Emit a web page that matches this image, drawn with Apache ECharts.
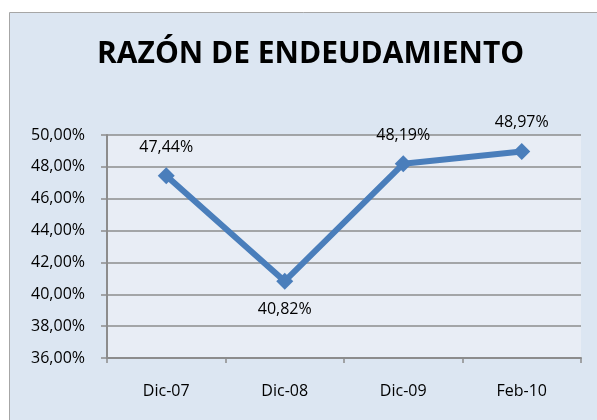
<!DOCTYPE html>
<html>
<head>
<meta charset="utf-8">
<script src="https://cdn.jsdelivr.net/npm/echarts@6/dist/echarts.min.js"></script>
<style>
  html, body { margin: 0; padding: 0; background: #fff; }
  #chart { width: 597px; height: 420px; }
</style>
</head>
<body>
<div id="chart"></div>
<script>
var periodos = ['Dic-07', 'Dic-08', 'Dic-09', 'Feb-10'];
var razon = [47.44, 40.82, 48.19, 48.97];
var posiciones = ['top', 'bottom', 'top', 'top'];

function pct(v) {
    return v.toFixed(2).replace('.', ',') + '%';
}

var chart = echarts.init(document.getElementById('chart'));

var option = {
    backgroundColor: '#ffffff',
    animation: false,
    graphic: [{
        type: 'rect',
        z: -10,
        shape: { x: 9.5, y: 12.5, width: 600, height: 420 },
        style: { fill: '#dce6f2', stroke: '#a6a6a6', lineWidth: 1 }
    }],
    title: {
        text: 'RAZÓN DE ENDEUDAMIENTO',
        left: 92,
        top: 34,
        textStyle: {
            fontFamily: 'Open Sans',
            fontWeight: 'bold',
            fontSize: 30,
            color: '#000'
        }
    },
    grid: {
        left: 107,
        right: 16,
        top: 135,
        bottom: 62,
        show: true,
        backgroundColor: '#e8edf5',
        borderWidth: 0
    },
    xAxis: {
        type: 'category',
        data: periodos,
        boundaryGap: true,
        axisLine: { lineStyle: { color: '#8c8c8c', width: 2 } },
        axisTick: { show: true, length: 5, lineStyle: { color: '#8c8c8c', width: 1.5 } },
        axisLabel: { color: '#000', fontFamily: 'Open Sans', fontSize: 16, margin: 25 }
    },
    yAxis: {
        type: 'value',
        min: 36,
        max: 50,
        interval: 2,
        axisLine: { show: true, lineStyle: { color: '#8c8c8c', width: 2 } },
        axisTick: { show: true, length: 6, lineStyle: { color: '#8c8c8c', width: 1.5 } },
        splitLine: { lineStyle: { color: '#8c8c8c', width: 1.5 } },
        axisLabel: {
            color: '#000', fontFamily: 'Open Sans', fontSize: 16, margin: 22,
            formatter: function (v) { return pct(v); }
        }
    },
    series: [{
        type: 'line',
        data: razon.map(function (v, i) {
            return { value: v, label: { position: posiciones[i] } };
        }),
        symbol: 'diamond',
        symbolSize: 17,
        lineStyle: { color: '#4a7ebb', width: 6 },
        itemStyle: { color: '#4a7ebb' },
        label: {
            show: true,
            distance: 12,
            color: '#000',
            fontFamily: 'Open Sans',
            fontSize: 16,
            formatter: function (p) { return pct(p.value); }
        }
    }]
};

chart.setOption(option);
</script>
</body>
</html>
